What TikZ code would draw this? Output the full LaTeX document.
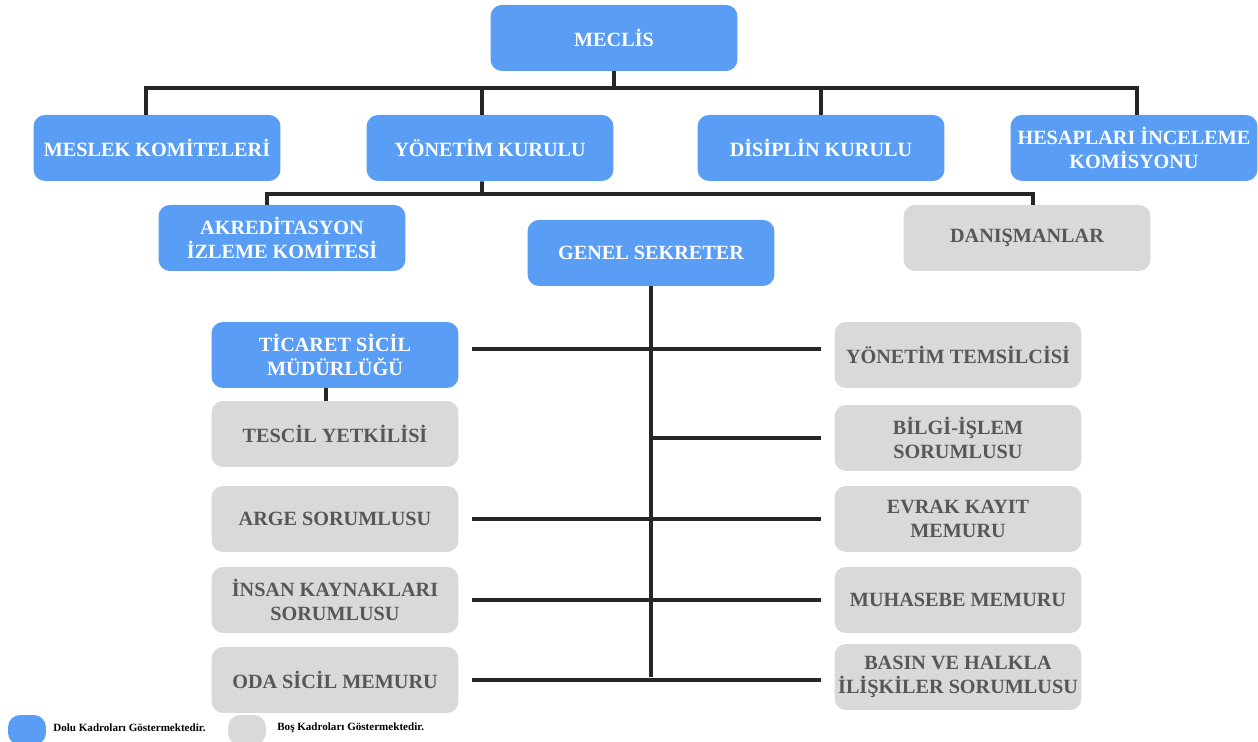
\documentclass[tikz,border=0pt]{standalone}
\usepackage{fontspec}
\setmainfont{Liberation Serif}
\usepackage{xcolor}
\usetikzlibrary{positioning,calc}
\definecolor{dolublue}{HTML}{599DF4}
\definecolor{bosgray}{HTML}{D9D9D9}
\definecolor{graytext}{HTML}{575757}
\definecolor{linkink}{HTML}{262626}
\tikzset{
  dolubox/.style={fill=dolublue,text=white,rounded corners=6.5pt,
                  minimum width=4.94cm,minimum height=1.32cm,align=center,
                  inner sep=2pt,font=\bfseries\fontsize{11.5}{14}\selectfont},
  bosbox/.style={dolubox,fill=bosgray,text=graytext},
  link/.style={draw=linkink,line width=2.2pt},
  legendpill/.style={rounded corners=7pt,minimum width=0.76cm,
                     minimum height=0.6cm,inner sep=0pt},
  legendtext/.style={font=\bfseries\fontsize{6.3}{7}\selectfont,
                     anchor=west,inner sep=0pt}
}

\begin{document}
\begin{tikzpicture}[x=0.02cm,y=-0.02cm]
    \path[use as bounding box] (0,0) rectangle (1258,742);
    \clip (0,0) rectangle (1258,742);
    % top levels
    \node[dolubox] (meclis) at (614,38) {MECLİS};
    \node[dolubox] (meslek) at (157,148) {MESLEK KOMİTELERİ};
    \node[dolubox] (yonetim) at (490,148) {YÖNETİM KURULU};
    \node[dolubox] (disiplin) at (821,148) {DİSİPLİN KURULU};
    \node[dolubox] (hesap) at (1134,148) {HESAPLARI İNCELEME\\KOMİSYONU};
    \node[dolubox] (akred) at (282,238) {AKREDİTASYON\\İZLEME KOMİTESİ};
    \node[bosbox] (danis) at (1027,238) {DANIŞMANLAR};
    \node[dolubox] (genel) at (651,253) {GENEL SEKRETER};
    % left column
    \node[dolubox] (ticaret) at (335,355) {TİCARET SİCİL\\MÜDÜRLÜĞÜ};
    \node[bosbox] (tescil) at (335,434) {TESCİL YETKİLİSİ};
    \node[bosbox] (arge) at (335,519) {ARGE SORUMLUSU};
    \node[bosbox] (insan) at (335,600) {İNSAN KAYNAKLARI\\SORUMLUSU};
    \node[bosbox] (oda) at (335,680) {ODA SİCİL MEMURU};
    % right column
    \node[bosbox] (temsil) at (958,355) {YÖNETİM TEMSİLCİSİ};
    \node[bosbox] (bilgi) at (958,438) {BİLGİ-İŞLEM\\SORUMLUSU};
    \node[bosbox] (evrak) at (958,519) {EVRAK KAYIT\\MEMURU};
    \node[bosbox] (muhasebe) at (958,600) {MUHASEBE MEMURU};
    \node[bosbox] (basin) at (958,677) {BASIN VE HALKLA\\İLİŞKİLER SORUMLUSU};
    % connectors
    \coordinate (topbar) at (614,88);
    \coordinate (midbar) at (482,194);
    \draw[link] (meclis.south) -- (topbar);
    \draw[link] ([xshift=-0.22cm]meslek.north) |- (topbar) -| ([xshift=0.06cm]hesap.north);
    \draw[link] ([xshift=-0.16cm]yonetim.north) -- ([xshift=-0.16cm]yonetim.north |- topbar);
    \draw[link] (disiplin.north) -- (disiplin.north |- topbar);
    \draw[link] ([xshift=-0.16cm]yonetim.south) -- (midbar);
    \draw[link] ([xshift=-0.3cm]akred.north) |- (midbar) -| ([xshift=0.12cm]danis.north);
    \draw[link] (genel.south) -- (genel.south |- basin.west);
    \draw[link] ([xshift=-0.18cm]ticaret.south) -- ([xshift=-0.18cm]tescil.north);
    \draw[link] ([xshift=0.26cm,yshift=0.12cm]ticaret.east) -- ([xshift=-0.26cm,yshift=0.12cm]ticaret.east -| temsil.west);
    \draw[link] (genel.south |- bilgi.west) -- ([xshift=-0.26cm]bilgi.west);
    \draw[link] ([xshift=0.26cm]arge.east) -- ([xshift=-0.26cm]evrak.west);
    \draw[link] ([xshift=0.26cm]insan.east) -- ([xshift=-0.26cm]muhasebe.west);
    \draw[link] ([xshift=0.26cm]oda.east) -- ([xshift=-0.26cm]oda.east -| basin.west);
    % legend
    \node[legendpill,fill=dolublue] (dolupill) at (27,730) {};
    \node[legendtext] (dolutext) at (53,728) {Dolu Kadroları Göstermektedir.};
    \node[legendpill,fill=bosgray] (bospill) at (247,730) {};
    \node[legendtext] (bostext) at (277,728) {Boş Kadroları Göstermektedir.};
\end{tikzpicture}
\end{document}
